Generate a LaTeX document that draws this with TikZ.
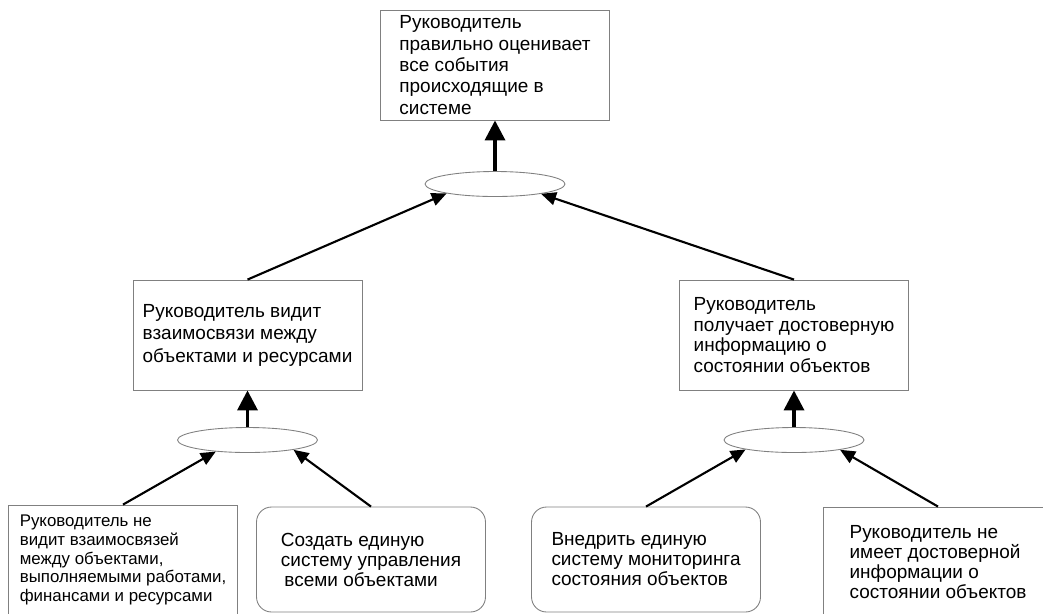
\documentclass[tikz,border=0pt]{standalone}
\usepackage{fontspec}
\setmainfont{Liberation Sans}
\usetikzlibrary{shapes.geometric,arrows.meta}

\begin{document}
\begin{tikzpicture}[x=0.02cm,y=-0.02cm,
        box/.style={draw=gray,line width=0.5pt,align=left,inner sep=0pt,
            minimum width=4.58cm,minimum height=2.2cm,
            font=\fontsize{10.8}{12.8}\selectfont},
        solution/.style={box,rounded corners=0.3cm,minimum height=2.1cm,
            font=\fontsize{10.8}{11.4}\selectfont},
        andnode/.style={draw=gray,ellipse,line width=0.5pt,inner sep=0pt,
            minimum width=2.8cm,minimum height=0.5cm},
        uplink/.style={-{Triangle[length=0.4cm,width=0.4cm]},line width=2pt},
        link/.style={-{Triangle[length=0.3cm,width=0.26cm]},line width=1.2pt}]

        \useasboundingbox (0,0) rectangle (1043,613);
        \clip (0,0) rectangle (1043,613);

        % goal and first level
        \node[box,font=\fontsize{10.8}{12.2}\selectfont] (goal) at (495,65)
            {Руководитель\\правильно оценивает\\все события\\происходящие в\\системе};
        \node[andnode] (and0) at (495,184) {};

        \node[box] (seelinks) at (247.5,335)
            {Руководитель видит\\взаимосвязи между\\объектами и ресурсами};
        \node[box,font=\fontsize{10.8}{11.6}\selectfont] (getinfo) at (794,335)
            {Руководитель\\получает достоверную\\информацию о\\состоянии объектов};

        \node[andnode] (and1) at (247.5,440) {};
        \node[andnode] (and2) at (794,440) {};

        % bottom level
        \node[box,font=\fontsize{9.6}{10.6}\selectfont] (nolinks) at (123,560)
            {Руководитель не\\видит взаимосвязей\\между объектами,\\выполняемыми работами,\\финансами и ресурсами};
        \node[solution] (mgmt) at (371,559.5)
            {Создать единую\\систему управления\\\hspace*{2pt}всеми объектами};
        \node[solution] (monitor) at (646,559.5)
            {Внедрить единую\\систему мониторинга\\состояния объектов};
        \node[box,font=\fontsize{10.8}{11.4}\selectfont] (noinfo) at (938,562)
            {Руководитель не\\имеет достоверной\\информации о\\состоянии объектов};

        \draw[uplink] (and0) -- (goal);
        \draw[uplink] (and1) -- (seelinks);
        \draw[uplink] (and2) -- (getinfo);

        \draw[link] (seelinks.north) -- (and0.191);
        \draw[link] (getinfo.north) -- (and0.348);
        \draw[link] (nolinks.north) -- (and1.200);
        \draw[link] (mgmt.north) -- (and1.348);
        \draw[link] (monitor.north) -- (and2.191);
        \draw[link] (noinfo.north) -- (and2.348);
\end{tikzpicture}
\end{document}
